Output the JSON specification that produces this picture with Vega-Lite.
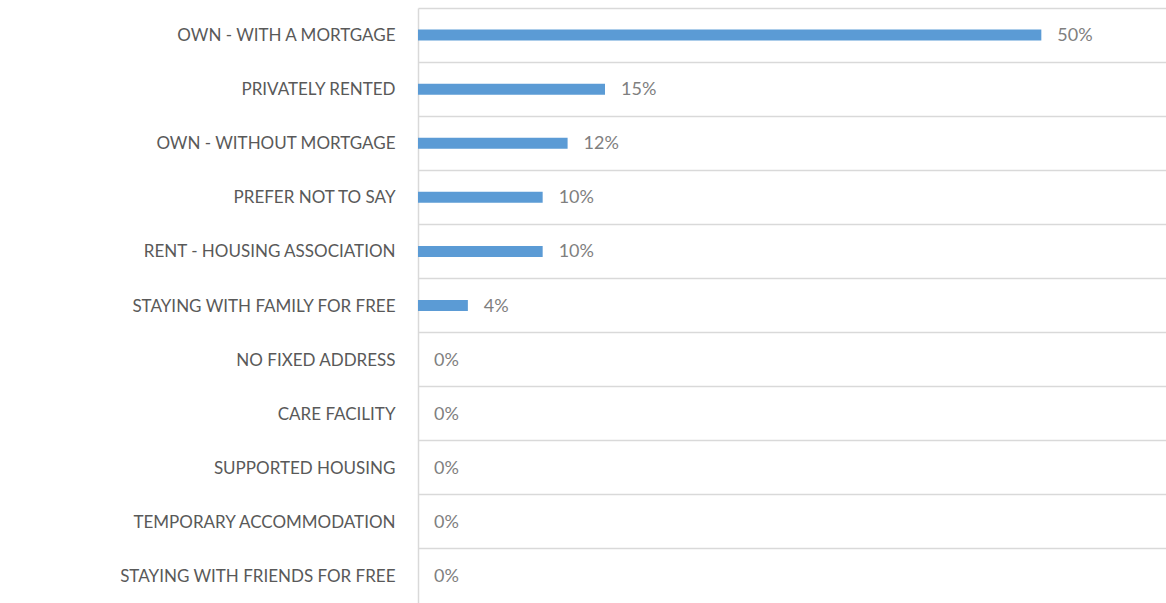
{
  "$schema": "https://vega.github.io/schema/vega-lite/v6.json",
  "autosize": "none",
  "width": 748,
  "height": 595,
  "padding": {"left": 418, "top": 8, "right": 0, "bottom": 0},
  "background": "white",
  "config": {"view": {"stroke": null}},
  "data": {"values": [
    {"category": "OWN - WITH A MORTGAGE", "value": 0.50},
    {"category": "PRIVATELY RENTED", "value": 0.15},
    {"category": "OWN - WITHOUT MORTGAGE", "value": 0.12},
    {"category": "PREFER NOT TO SAY", "value": 0.10},
    {"category": "RENT - HOUSING ASSOCIATION", "value": 0.10},
    {"category": "STAYING WITH FAMILY FOR FREE", "value": 0.04},
    {"category": "NO FIXED ADDRESS", "value": 0},
    {"category": "CARE FACILITY", "value": 0},
    {"category": "SUPPORTED HOUSING", "value": 0},
    {"category": "TEMPORARY ACCOMMODATION", "value": 0},
    {"category": "STAYING WITH FRIENDS FOR FREE", "value": 0}
  ]},
  "encoding": {
    "y": {
      "field": "category", "type": "nominal", "sort": null,
      "scale": {"paddingInner": 0, "paddingOuter": 0},
      "axis": {
        "title": null, "ticks": false, "domain": true, "domainColor": "#d9d9d9", "domainWidth": 1.5,
        "grid": true, "gridColor": "#d9d9d9", "gridWidth": 1.5, "bandPosition": 0,
        "labelFont": "Lato", "labelFontSize": 17, "labelColor": "#595959", "labelPadding": 23, "labelLimit": 420,
        "labelOffset": 1
      }
    },
    "x": {
      "field": "value", "type": "quantitative",
      "scale": {"domain": [0, 0.6], "nice": false},
      "axis": null
    }
  },
  "layer": [
    {"mark": {"type": "bar", "size": 11, "color": "#5b9bd5"}},
    {"mark": {"type": "text", "align": "left", "dx": 16, "dy": 1, "font": "Lato", "fontSize": 18, "color": "#7f7f7f"},
     "encoding": {"text": {"field": "value", "type": "quantitative", "format": ".0%"}}}
  ]
}
